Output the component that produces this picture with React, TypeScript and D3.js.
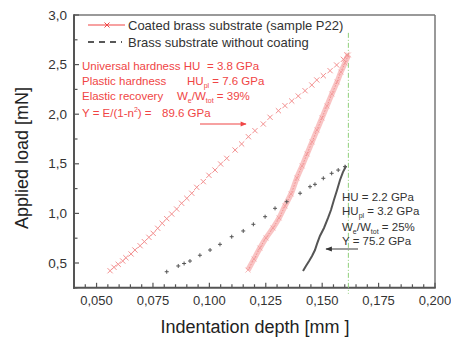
import React from 'react';
import * as d3 from 'd3';

// ---- data (depth in mm, load in mN) ----
const coatedLoadDepth = [0.0560, 0.0577, 0.0596, 0.0616, 0.0630, 0.0653, 0.0670, 0.0693, 0.0712, 0.0732, 0.0751, 0.0771, 0.0791, 0.0811, 0.0833, 0.0855, 0.0877, 0.0900, 0.0922, 0.0944, 0.0973, 0.0998, 0.1025, 0.1050, 0.1077, 0.1114, 0.1143, 0.1173, 0.1202, 0.1239, 0.1269, 0.1306, 0.1335, 0.1365, 0.1394, 0.1424, 0.1454, 0.1476, 0.1505, 0.1535, 0.1564, 0.1594, 0.1609];
const coatedLoadForce = [0.422, 0.457, 0.487, 0.520, 0.553, 0.591, 0.631, 0.674, 0.715, 0.759, 0.799, 0.850, 0.900, 0.947, 0.994, 1.044, 1.102, 1.152, 1.203, 1.263, 1.320, 1.384, 1.437, 1.498, 1.555, 1.639, 1.700, 1.773, 1.834, 1.901, 1.969, 2.035, 2.086, 2.133, 2.183, 2.237, 2.294, 2.345, 2.388, 2.439, 2.496, 2.553, 2.597];

const coatedUnloadDepth = [0.1616, 0.1601, 0.1583, 0.1566, 0.1543, 0.1521, 0.1499, 0.1477, 0.1455, 0.1433, 0.1411, 0.1388, 0.1362, 0.1335, 0.1309, 0.1282, 0.1251, 0.1224, 0.1198, 0.1171];
const coatedUnloadForce = [2.597, 2.516, 2.425, 2.325, 2.204, 2.083, 1.962, 1.841, 1.720, 1.599, 1.478, 1.357, 1.196, 1.075, 0.954, 0.853, 0.752, 0.651, 0.540, 0.429];

const brassLoadDepth = [0.0811, 0.0862, 0.0888, 0.0914, 0.0958, 0.1003, 0.1047, 0.1099, 0.1150, 0.1195, 0.1247, 0.1291, 0.1343, 0.1402, 0.1446, 0.1468, 0.1505, 0.1542, 0.1571, 0.1601];
const brassLoadForce = [0.412, 0.470, 0.495, 0.520, 0.578, 0.631, 0.688, 0.765, 0.823, 0.890, 0.967, 1.051, 1.118, 1.203, 1.269, 1.293, 1.354, 1.404, 1.437, 1.471];

const brassUnloadDepth = [0.1606, 0.1592, 0.1579, 0.1566, 0.1552, 0.1539, 0.1526, 0.1508, 0.1490, 0.1477, 0.1468, 0.1455, 0.1442, 0.1428, 0.1415];
const brassUnloadForce = [1.478, 1.417, 1.337, 1.236, 1.135, 1.034, 0.954, 0.853, 0.772, 0.692, 0.631, 0.571, 0.520, 0.470, 0.419];

const maxDepth = 0.1616;
const xTicks = [0.05, 0.075, 0.1, 0.125, 0.15, 0.175, 0.2];
const yTicks = [0.5, 1.0, 1.5, 2.0, 2.5, 3.0];
const xDomain = [0.04, 0.2];
const yDomain = [0.25, 3.0];

const legendLabels = ['Coated brass substrate (sample P22)', 'Brass substrate without coating'];

const RED = '#f04545';
const GRAY = '#444';

const FONT = 'Liberation Sans, Arial, sans-serif';

export default function App() {
  const W = 451, H = 343;
  const left = 74, right = 435, top = 15, bottom = 287.8;
  const x = d3.scaleLinear().domain(xDomain).range([left, right]);
  const y = d3.scaleLinear().domain(yDomain).range([bottom, top]);

  const fmtX = (v: number) => d3.format('.3f')(v).replace('.', ',');
  const fmtY = (v: number) => d3.format('.1f')(v).replace('.', ',');

  const xMinor = d3.range(0.045, 0.2001, 0.005).filter(v => !xTicks.some(t => Math.abs(t - v) < 1e-6));
  const yMinor = d3.range(0.25, 3.0001, 0.25).filter(v => !yTicks.some(t => Math.abs(t - v) < 1e-6));

  const coatedLoad = coatedLoadDepth.map((d, i) => [d, coatedLoadForce[i]] as [number, number]);
  const coatedUnload = coatedUnloadDepth.map((d, i) => [d, coatedUnloadForce[i]] as [number, number]);
  const brassLoad = brassLoadDepth.map((d, i) => [d, brassLoadForce[i]] as [number, number]);
  const brassUnload = brassUnloadDepth.map((d, i) => [d, brassUnloadForce[i]] as [number, number]);

  const line = d3.line<[number, number]>().x(p => x(p[0])).y(p => y(p[1])).curve(d3.curveCatmullRom);
  const lineLin = d3.line<[number, number]>().x(p => x(p[0])).y(p => y(p[1]));

  const cross = (cx: number, cy: number, s: number, color: string, key: string, sw = 1) => (
    <g key={key} stroke={color} strokeWidth={sw}>
      <line x1={cx - s} y1={cy - s} x2={cx + s} y2={cy + s} />
      <line x1={cx - s} y1={cy + s} x2={cx + s} y2={cy - s} />
    </g>
  );
  const plus = (cx: number, cy: number, s: number, color: string, key: string) => (
    <g key={key} stroke={color} strokeWidth={1}>
      <line x1={cx - s} y1={cy} x2={cx + s} y2={cy} />
      <line x1={cx} y1={cy - s} x2={cx} y2={cy + s} />
    </g>
  );

  const annFont = 11.5;
  const sub = { fontSize: 7 };

  return (
    <svg width={W} height={H} style={{ position: 'absolute', left: 0, top: 0, background: '#fff' }} fontFamily={FONT}>
      <defs>
        <marker id="arrRed" viewBox="0 0 10 10" refX="9" refY="5" markerWidth="6" markerHeight="5" orient="auto">
          <path d="M0,1 L10,5 L0,9 z" fill={RED} />
        </marker>
        <marker id="arrGray" viewBox="0 0 10 10" refX="9" refY="5" markerWidth="6" markerHeight="5" orient="auto">
          <path d="M0,1 L10,5 L0,9 z" fill="#333" />
        </marker>
      </defs>

      {/* frame */}
      <line x1={left} y1={top} x2={right} y2={top} stroke="#777" strokeWidth={1.5} />
      <line x1={right} y1={top} x2={right} y2={bottom} stroke="#777" strokeWidth={1.5} />
      <line x1={left} y1={top - 0.75} x2={left} y2={bottom + 1} stroke="#555" strokeWidth={2} />
      <line x1={left - 1} y1={bottom} x2={right + 0.75} y2={bottom} stroke="#555" strokeWidth={2} />

      {/* x ticks */}
      {xTicks.map(t => (
        <g key={'xt' + t}>
          <line x1={x(t)} x2={x(t)} y1={bottom} y2={bottom - 5} stroke="#555" strokeWidth={1.2} />
          <text x={x(t)} y={305} textAnchor="middle" fontSize={13} fill="#333">{fmtX(t)}</text>
        </g>
      ))}
      {xMinor.map(t => (
        <line key={'xm' + t} x1={x(t)} x2={x(t)} y1={bottom} y2={bottom - 3.5} stroke="#555" strokeWidth={1.2} />
      ))}
      {/* y ticks */}
      {yTicks.map(t => (
        <g key={'yt' + t}>
          <line x1={left} x2={left + 5} y1={y(t)} y2={y(t)} stroke="#555" strokeWidth={1.2} />
          <text x={67} y={y(t) + 4.5} textAnchor="end" fontSize={13.5} fill="#333">{fmtY(t)}</text>
        </g>
      ))}
      {yMinor.map(t => (
        <line key={'ym' + t} x1={left} x2={left + 3.5} y1={y(t)} y2={y(t)} stroke="#555" strokeWidth={1.2} />
      ))}

      {/* axis titles */}
      <text transform={`translate(28,158) rotate(-90)`} textAnchor="middle" fontSize={18} fill="#222">Applied load [mN]</text>
      <text x={255} y={333} textAnchor="middle" fontSize={18} fill="#222">Indentation depth [mm ]</text>

      {/* green max-depth line */}
      <line x1={x(maxDepth)} x2={x(maxDepth)} y1={y(2.82)} y2={y(0.19)} stroke="#8fcf7a" strokeWidth={1} strokeDasharray="5,2,1,2" />

      {/* coated unloading: dense band of crosses */}
      <path d={line(coatedUnload) || ''} fill="none" stroke="#f9c4c4" strokeWidth={5.5} />
      <path d={line(coatedUnload) || ''} fill="none" stroke="#f28e8e" strokeWidth={1} strokeDasharray="1.5,1.5" />
      {coatedUnload.map((p, i) => cross(x(p[0]), y(p[1]), 2.5, '#f29a9a', 'cu' + i, 0.7))}

      {/* coated loading crosses */}
      {coatedLoad.map((p, i) => cross(x(p[0]), y(p[1]), 2.6, '#f39090', 'cl' + i, 1))}

      {/* brass loading plus markers */}
      {brassLoad.map((p, i) => plus(x(p[0]), y(p[1]), 2, '#555', 'bl' + i))}

      {/* brass unloading */}
      <path d={lineLin(brassUnload) || ''} fill="none" stroke="#555" strokeWidth={2} />
      <path d={lineLin([brassLoad[brassLoad.length - 1], brassUnload[0]]) || ''} fill="none" stroke="#555" strokeWidth={1.5} />

      {/* legend */}
      <line x1={88} x2={125} y1={25} y2={25} stroke={RED} strokeWidth={1.2} />
      {cross(107, 25, 2.5, RED, 'lgx', 1)}
      <text x={128} y={30} fontSize={13} fill="#333">{legendLabels[0]}</text>
      <line x1={88} x2={122} y1={42} y2={42} stroke="#222" strokeWidth={1.4} strokeDasharray="6,5" />
      <text x={128} y={47} fontSize={13} fill="#333">{legendLabels[1]}</text>

      {/* red annotations */}
      <g fill={RED} fontSize={annFont}>
        <text x={82} y={70}>Universal hardness HU</text>
        <text x={207} y={70}>= 3.8 GPa</text>
        <text x={82} y={85}>Plastic hardness</text>
        <text x={187} y={85}>HU<tspan style={sub} dy={3}>pl</tspan><tspan dy={-3}> = 7.6 GPa</tspan></text>
        <text x={82} y={100}>Elastic recovery</text>
        <text x={177} y={100}>W<tspan style={sub} dy={3}>e</tspan><tspan dy={-3}>/W</tspan><tspan style={sub} dy={3}>tot</tspan><tspan dy={-3}> = 39%</tspan></text>
        <text x={82} y={117}>Y = E/(1-n<tspan style={sub} dy={-5}>2</tspan><tspan dy={5}>) =</tspan></text>
        <text x={162} y={117}>89.6 GPa</text>
      </g>
      <line x1={200} x2={246} y1={124} y2={124} stroke={RED} strokeWidth={1.2} markerEnd="url(#arrRed)" />

      {/* black annotations */}
      <g fill="#333" fontSize={annFont}>
        <text x={342} y={201}>HU = 2.2 GPa</text>
        <text x={342} y={215}>HU<tspan style={sub} dy={3}>pl</tspan><tspan dy={-3}> = 3.2 GPa</tspan></text>
        <text x={342} y={231}>W<tspan style={sub} dy={3}>e</tspan><tspan dy={-3}>/W</tspan><tspan style={sub} dy={3}>tot</tspan><tspan dy={-3}> = 25%</tspan></text>
        <text x={342} y={245}>Y = 75.2 GPa</text>
      </g>
      <line x1={358} x2={326} y1={249} y2={249} stroke="#666" strokeWidth={1.3} markerEnd="url(#arrGray)" />
    </svg>
  );
}
